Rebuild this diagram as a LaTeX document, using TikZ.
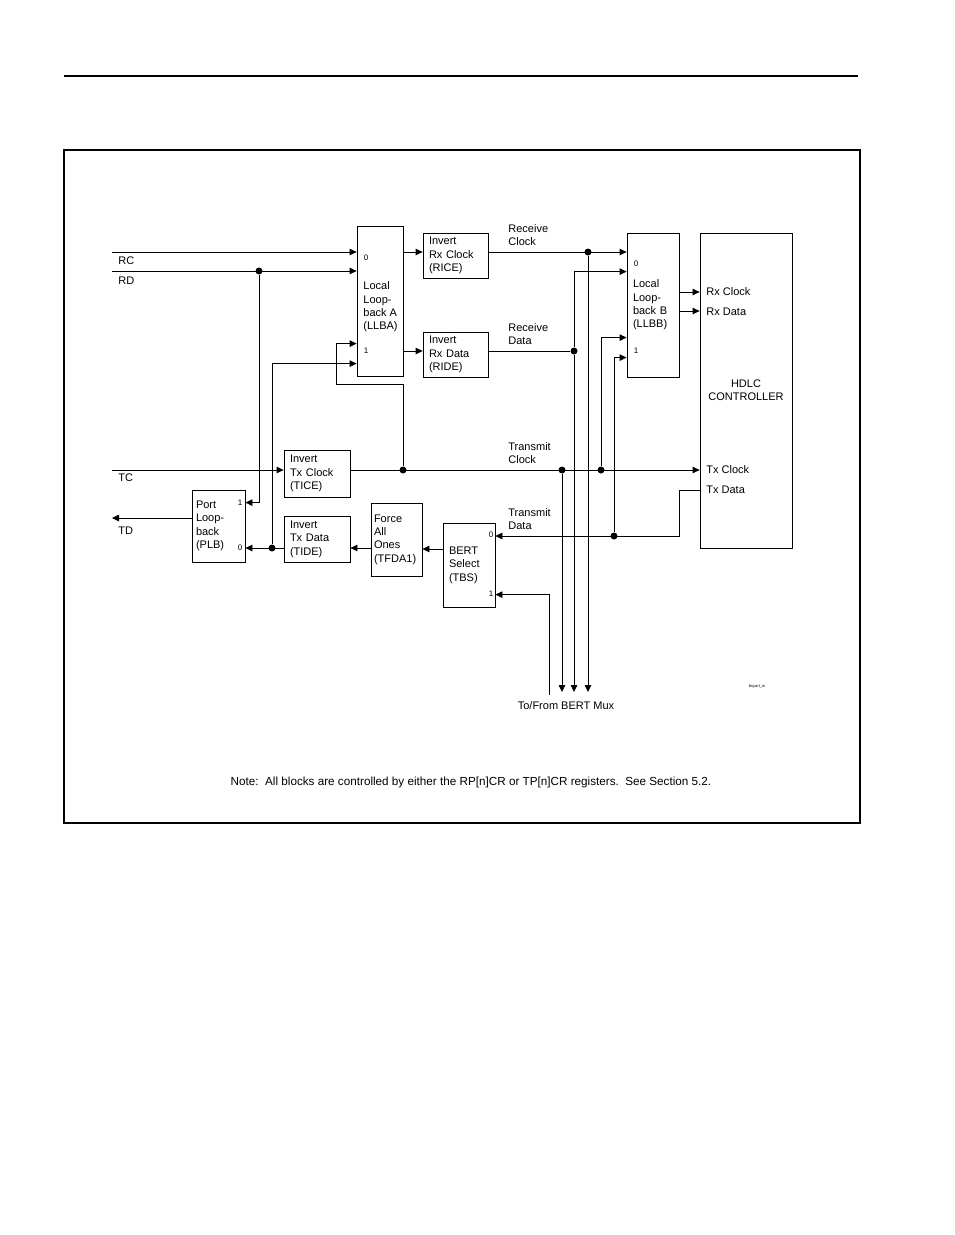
\documentclass[tikz,border=0pt]{standalone}
\usepackage{fontspec}
\setmainfont{Liberation Sans}
\usetikzlibrary{arrows.meta,positioning}

\begin{document}
\begin{tikzpicture}[x=1pt,y=-1pt,>={Triangle[length=7pt,width=6.5pt]},
    font=\fontsize{11}{13.4}\selectfont,line width=0.8pt]
    \useasboundingbox (0,0) rectangle (954,1235);
    \tikzset{
      blk/.style={draw,align=left,inner xsep=6pt,inner ysep=0pt},
      lbl/.style={anchor=west,inner sep=0pt,align=left},
      port/.style={inner sep=0pt,font=\fontsize{8}{8}\selectfont},
      dot/.style={circle,fill,inner sep=0pt,minimum size=7pt}
    }
    % page rule and frame
    \draw[line width=1.5pt] (64,76) -- (858,76);
    \draw[line width=1.2pt] (64,150) rectangle (860,823);
    % blocks
    \node[blk,text width=34pt,minimum height=150pt] (llba) at (380,301) {};
    \node[lbl] (llbatxt) at (363,307) {Local\\Loop-\\back A\\(LLBA)};
    \node[blk,text width=53pt,minimum height=45pt] (rice) at (455.5,255.5) {Invert\\Rx Clock\\(RICE)};
    \node[blk,text width=53pt,minimum height=45pt] (ride) at (455.5,354.5) {Invert\\Rx Data\\(RIDE)};
    \node[blk,text width=40pt,minimum height=144pt] (llbb) at (653,305) {Local\\Loop-\\back B\\(LLBB)};
    \node[blk,text width=80pt,minimum height=315pt,align=center] (hdlc) at (746,390.5) {HDLC\\CONTROLLER};
    \node[blk,text width=54pt,minimum height=47pt] (tice) at (317,473.5) {Invert\\Tx Clock\\(TICE)};
    \node[blk,text width=54pt,minimum height=46pt] (tide) at (317,539) {Invert\\Tx Data\\(TIDE)};
    \node[blk,inner xsep=4pt,text width=45pt,minimum height=72pt] (plb) at (218.5,526) {Port\\Loop-\\back\\(PLB)};
    \node[blk,inner xsep=3pt,text width=45pt,minimum height=73pt] (tfda) at (396.5,539.5) {Force\\All\\Ones\\(TFDA1)};
    \node[blk,text width=40pt,minimum height=84pt] (tbs) at (469,565) {BERT\\Select\\(TBS)};
    % mux ports
    \node[port] (llba0) at (366,258) {0};
    \node[port] (llba1) at (366,351) {1};
    \node[port] (llbb0) at (636,264) {0};
    \node[port] (llbb1) at (636,351) {1};
    \node[port] (plb1) at (240,503) {1};
    \node[port] (plb0) at (240,548) {0};
    \node[port] (tbs0) at (491,535) {0};
    \node[port] (tbs1) at (491,594) {1};
    % pins
    \coordinate (rc) at (112,252);
    \coordinate (rd) at (112,271);
    \coordinate (tc) at (112,470);
    \coordinate (td) at (112,518);
    \coordinate (mux) at (566,692);
    \node[lbl] (rclbl) at (118,261) {RC};
    \node[lbl] (rdlbl) at (118,281) {RD};
    \node[lbl] (tclbl) at (118,478) {TC};
    \node[lbl] (tdlbl) at (118,531) {TD};
    \node[lbl] (rxclk) at (706,292) {Rx Clock};
    \node[lbl] (rxdat) at (706,312) {Rx Data};
    \node[lbl] (txclk) at (706,470) {Tx Clock};
    \node[lbl] (txdat) at (706,490) {Tx Data};
    \node[lbl] (rclabel) at (508,235) {Receive\\Clock};
    \node[lbl] (rdlabel) at (508,334) {Receive\\Data};
    \node[lbl] (tclabel) at (508,453) {Transmit\\Clock};
    \node[lbl] (tdlabel) at (508,519) {Transmit\\Data};
    \node[lbl,anchor=center] (muxlbl) at (566,706) {To/From BERT Mux};
    % junctions
    \node[dot] (j0) at (259,271) {};
    \node[dot] (j1) at (588,252) {};
    \node[dot] (j2) at (574,351) {};
    \node[dot] (j3) at (403,470) {};
    \node[dot] (j4) at (562,470) {};
    \node[dot] (j5) at (601,470) {};
    \node[dot] (j6) at (614,536) {};
    \node[dot] (j7) at (272,548) {};
    % receive side
    \draw[->] (rc) -- (rc -| llba.west);
    \draw[->] (rd) -- (rd -| llba.west);
    \draw[->] (rc -| llba.east) -- (rc -| rice.west);
    \draw[->] (j2 -| llba.east) -- (j2 -| ride.west);
    \draw[->] (rc -| rice.east) -- (rc -| llbb.west);
    \draw (j2 -| ride.east) -- (j2);
    \draw[->] (j2) |- ([yshift=-39pt]llbb.north west);
    \draw[->] (j2) -- (j2 |- mux);
    \draw[->] (j1) -- (j1 |- mux);
    \draw[->] (llbb.east |- 0,292) -- (hdlc.west |- 0,292);
    \draw[->] (llbb.east |- 0,311) -- (hdlc.west |- 0,311);
    % transmit side
    \draw[->] (tc) -- (tc -| tice.west);
    \draw[->] (tc -| tice.east) -- (tc -| hdlc.west);
    \draw[->] (j3) |- ([xshift=-20pt,yshift=-8pt]llba.south west) |- ([yshift=-118pt]llba.north west);
    \draw[->] (j4) -- (j4 |- mux);
    \draw[->] (j5) |- ([yshift=-105pt]llbb.north west);
    \draw[->] (hdlc.west |- 0,490) -- ++(-20,0) |- (tbs.east |- j6);
    \draw[->] (j6) |- ([yshift=-125pt]llbb.north west);
    \draw[->] ([xshift=-17pt,yshift=-3pt]mux) |- ([yshift=-72pt]tbs.north east);
    \draw[->] (tbs.west |- 0,549) -- (tfda.east |- 0,549);
    \draw[->] (j7 -| tfda.west) -- (j7 -| tide.east);
    \draw[->] (j7 -| tide.west) -- (j7 -| plb.east);
    \draw[->] (j7) |- ([yshift=-138pt]llba.north west);
    \draw[->] (j0) |- ([yshift=-13pt]plb.north east);
    \draw[->] (td -| plb.west) -- (td);
    % notes
    \node[font=\fontsize{4}{4}\selectfont,inner sep=0pt] (fig) at (757,686) {bsyart\_w};
    \node[font=\fontsize{11.7}{13}\selectfont] (note) at (471,782) {Note:\ \ All blocks are controlled by either the RP[n]CR or TP[n]CR registers.\ \ See Section 5.2.};
  \end{tikzpicture}
\end{document}
